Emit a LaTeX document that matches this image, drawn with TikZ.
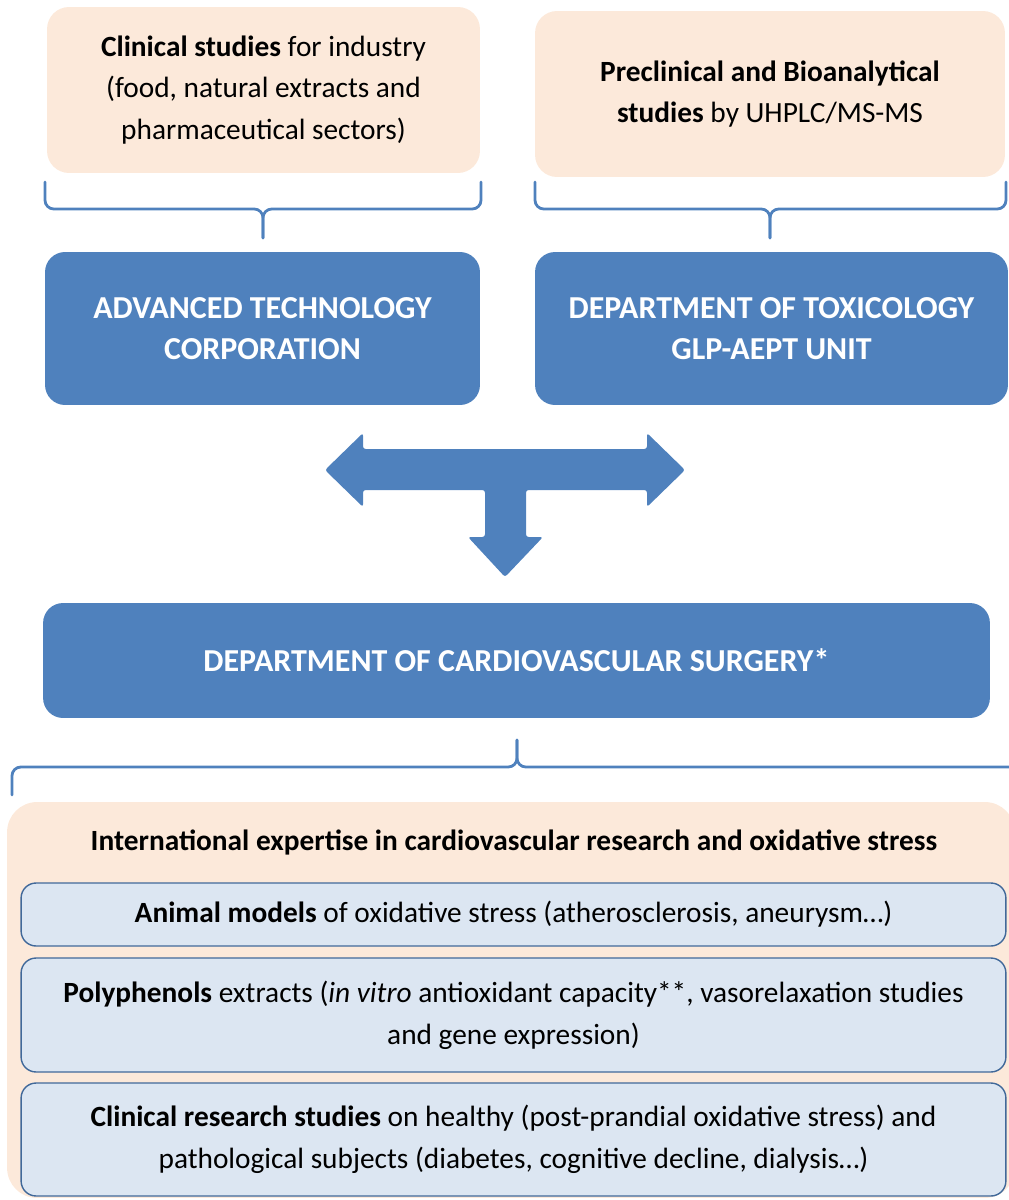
\documentclass[tikz,border=0pt]{standalone}
\usepackage{fontspec}
\setmainfont{Carlito}
\usetikzlibrary{positioning}
\definecolor{peach}{HTML}{FCE9DA}
\definecolor{office}{HTML}{4F81BD}
\definecolor{paleblue}{HTML}{DCE6F2}
\definecolor{edgeblue}{HTML}{41699A}

\begin{document}
\begin{tikzpicture}[x=0.02cm,y=-0.02cm,line cap=round,line join=round,
  txt/.style={font=\fontsize{16.7}{23.8}\selectfont,align=center},
  peachbox/.style={txt,fill=peach,rounded corners=0.44cm,inner sep=0pt},
  unitbox/.style={txt,fill=office,text=white,rounded corners=0.4cm,inner sep=0pt,
    font=\fontsize{18.2}{23.6}\selectfont\bfseries},
  itembox/.style={txt,fill=paleblue,draw=edgeblue,line width=0.8pt,rounded corners=0.3cm,
    inner sep=0pt,minimum width=19.7cm},
  brace/.style={draw=office,line width=1.6pt,rounded corners=5pt}]
  \useasboundingbox (0,0) rectangle (1008,1200);
  % partners
  \node[peachbox,minimum width=8.66cm,minimum height=3.32cm] (clin) at (263.5,90)
    {\textbf{Clinical studies} for industry\\(food, natural extracts and\\pharmaceutical sectors)};
  \node[peachbox,minimum width=9.4cm,minimum height=3.32cm] (precl) at (770,94)
    {\textbf{Preclinical and Bioanalytical}\\\textbf{studies} by UHPLC/MS-MS};
  % braces under the partners
  \draw[brace] (45,182) -- (45,209) -- (263,209) -- (263,238);
  \draw[brace] (481,182) -- (481,209) -- (263,209) -- (263,238);
  \draw[brace] (535,182) -- (535,209) -- (770,209) -- (770,238);
  \draw[brace] (1006,182) -- (1006,209) -- (770,209) -- (770,238);
  \node[unitbox,minimum width=8.7cm,minimum height=3.06cm] (atc) at (262.5,328.5)
    {ADVANCED TECHNOLOGY\\CORPORATION};
  \node[unitbox,minimum width=9.46cm,minimum height=3.06cm] (tox) at (771.5,328.5)
    {DEPARTMENT OF TOXICOLOGY\\GLP-AEPT UNIT};
  % T arrow
  \fill[office,rounded corners=1.5pt] (325,470) -- (363,433) -- (363,449) -- (647,449)
    -- (647,433) -- (685,470) -- (647,507) -- (647,490) -- (526,490) -- (526,537)
    -- (543,537) -- (505,577) -- (468,537) -- (485,537) -- (485,490) -- (363,490)
    -- (363,507) -- cycle;
  \node[unitbox,minimum width=18.94cm,minimum height=2.3cm] (cvs) at (516.5,660.5)
    {DEPARTMENT OF CARDIOVASCULAR SURGERY*};
  % brace over the expertise
  \draw[brace] (12,795) -- (12,767) -- (517,767) -- (517,740);
  \draw[brace] (1030,767) -- (517,767) -- (517,740);
  \node[peachbox,rounded corners=0.6cm,minimum width=20.16cm,minimum height=7.92cm] (expert)
    at (511,1000) {};
  \node[txt,font=\fontsize{16.7}{23.8}\selectfont\bfseries] (title) at (514,842)
    {International expertise in cardiovascular research and oxidative stress};
  \node[itembox,minimum height=1.26cm] (animal) at (513.5,914.5)
    {\textbf{Animal models} of oxidative stress (atherosclerosis, aneurysm…)};
  \node[itembox,minimum height=2.28cm] (poly) at (513.5,1015)
    {\textbf{Polyphenols} extracts (\textit{in vitro} antioxidant capacity**, vasorelaxation studies\\and gene expression)};
  \node[itembox,minimum height=2.26cm] (clinres) at (513.5,1139.5)
    {\textbf{Clinical research studies} on healthy (post-prandial oxidative stress) and\\pathological subjects (diabetes, cognitive decline, dialysis…)};
\end{tikzpicture}
\end{document}
